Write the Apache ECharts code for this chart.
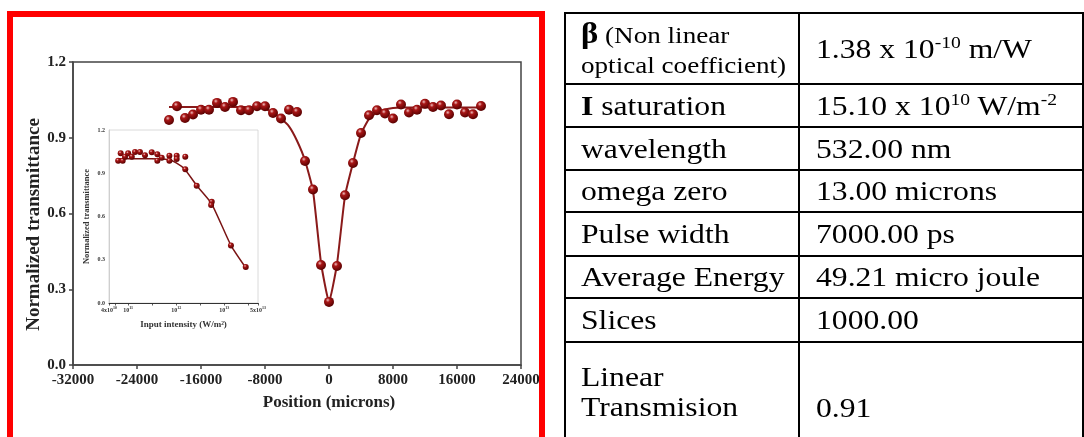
<!DOCTYPE html>
<html>
<head>
    <meta charset="UTF-8">
    <title>Z-scan transmittance</title>
    <script src="https://cdn.jsdelivr.net/npm/echarts@6/dist/echarts.min.js"></script>
    <style>
        body { margin:0; width:1084px; height:437px; overflow:hidden; background:#fff; position:relative; }
        #main { position:absolute; left:0; top:0; width:560px; height:437px; }
        #frame { position:absolute; left:7px; top:11px; width:526px; height:440px; border:6px solid #ff0000; pointer-events:none; }
        #params { position:absolute; left:564px; top:12px; border-collapse:collapse; table-layout:fixed;
                  font-family:"Liberation Serif","Times New Roman", serif; font-size:28px; color:#000; }
        #params td { border:2px solid #000; padding:0 0 0 15px; vertical-align:middle; overflow:hidden; white-space:nowrap; }
        #params td + td { padding-left:16px; }
        #params .t { display:inline-block; transform:scaleX(1.13); transform-origin:0 50%; line-height:30px; }
        #params sup { font-size:0.62em; vertical-align:0.55em; line-height:0; }
        #params .small { font-size:24px; line-height:28px; }
    </style>
</head>
<body>

<div id="main"></div>
<div id="frame"></div>
<table id="params"></table>

<script type="text/javascript">
    // main z-scan curve
    var mainPos = [-20000,-19000,-18000,-17000,-16000,-15000,-14000,-13000,-12000,-11000,-10000,-9000,-8000,-7000,-6000,-5000,-4000,-3000,-2000,-1000,
                   0,1000,2000,3000,4000,5000,6000,7000,8000,9000,10000,11000,12000,13000,14000,15000,16000,17000,18000,19000];
    var mainT = [0.970,1.025,0.978,0.992,1.011,1.011,1.038,1.022,1.042,1.009,1.009,1.025,1.025,0.998,0.976,1.011,1.002,0.808,0.695,0.396,
                 0.250,0.392,0.672,0.800,0.919,0.989,1.009,0.996,0.976,1.032,1.000,1.011,1.035,1.022,1.028,0.993,1.032,1.000,0.993,1.026];
    // fitted curve
    var fitPos = [-20000,-9000,-8000,-7000,-6000,-5000,-4000,-3000,-2000,-1000,0,1000,2000,3000,4000,5000,6000,7000,8000,9000,19000];
    var fitT   = [1.022,1.022,1.015,1.000,0.976,0.945,0.888,0.810,0.690,0.405,0.250,0.400,0.670,0.800,0.915,0.975,1.000,1.012,1.018,1.020,1.020];

    // inset: transmittance vs input intensity
    var insetI = [6.2e10,7.0e10,7.7e10,8.6e10,1.0e11,1.19e11,1.39e11,1.76e11,2.24e11,3.09e11,4.04e11,4.04e11,4.98e11,7.2e11,7.2e11,
                  1.02e12,1.02e12,1.54e12,1.54e12,2.66e12,5.46e12,5.3e12,1.37e13,2.78e13];
    var insetT = [0.987,1.038,0.987,1.015,1.038,1.015,1.047,1.047,1.024,1.045,1.031,0.987,1.008,1.022,0.987,
                  1.022,0.999,1.015,0.927,0.813,0.702,0.679,0.399,0.250];
    var insetFitI = [6.2e10,3e11,7e11,1e12,1.5e12,2.66e12,5.4e12,1.37e13,2.78e13];
    var insetFitT = [1.000,1.000,0.993,0.972,0.928,0.815,0.690,0.400,0.245];
    var insetLabelVals = [4e10,1e11,1e12,1e13,5e13];
    var insetTickVals = [4e10,5.3e10,1e11,3.16e11,1e12,3.16e12,1e13,3.16e13,5e13];

    // parameter table
    var paramNames = ['<b style="font-size:29px">&beta;</b><span class="small"> (Non linear<br>optical coefficient)</span>',
                      '<b>I</b> saturation','wavelength','omega zero','Pulse width','Average Energy','Slices','Linear<br>Transmision'];
    var paramValues = ['1.38 x 10<sup>-10</sup> m/W','15.10 x 10<sup>10</sup> W/m<sup>-2</sup>','532.00 nm','13.00 microns',
                       '7000.00 ps','49.21 micro joule','1000.00','0.91'];

    var rowHeights = [71, 43, 43, 42, 44, 42, 44, 100];
    var tbl = document.getElementById('params');
    var html = '<colgroup><col style="width:244px"><col style="width:300px"></colgroup>';
    for (var i = 0; i < paramNames.length; i++) {
        var last = i === paramNames.length - 1;
        var st = last ? 'vertical-align:top;padding-top:19px' : '';
        var st2 = last ? 'vertical-align:top;padding-top:49px' : '';
        html += '<tr style="height:' + rowHeights[i] + 'px"><td style="' + st + '"><span class="t">' + paramNames[i] +
                '</span></td><td style="' + st2 + '"><span class="t">' + paramValues[i] + '</span></td></tr>';
    }
    tbl.innerHTML = html;

    function pairs(a, b) {
        var out = [];
        for (var i = 0; i < a.length; i++) out.push([a[i], b[i]]);
        return out;
    }

    var sphere = function () {
        return {
            type: 'radial', x: 0.38, y: 0.32, r: 0.7,
            colorStops: [
                {offset: 0, color: '#f0c0c0'},
                {offset: 0.3, color: '#a81616'},
                {offset: 1, color: '#560000'}
            ]
        };
    };

    var serif = 'Liberation Serif';
    var myChart = echarts.init(document.getElementById('main'));
    var option = {
        animation: false,
        backgroundColor: '#fff',
        grid: [
            {left: 73, top: 62, width: 448, height: 303, show: true, borderColor: '#444', borderWidth: 1.5, containLabel: false},
            {left: 109, top: 130, width: 149, height: 173, show: true, backgroundColor: '#fff', borderColor: '#d0d0d0', borderWidth: 0.8}
        ],
        xAxis: [
            {
                gridIndex: 0, type: 'value', min: -32000, max: 24000, interval: 8000,
                name: 'Position (microns)', nameLocation: 'middle', nameGap: 29,
                nameTextStyle: {fontFamily: serif, fontWeight: 'bold', fontSize: 17, color: '#222', padding: [0, 0, 0, 64]},
                axisLine: {onZero: false, lineStyle: {color: '#444', width: 1.5}},
                axisTick: {inside: false, length: 4, lineStyle: {color: '#444', width: 1.5}},
                axisLabel: {fontFamily: serif, fontWeight: 'bold', fontSize: 15, color: '#222', margin: 8,
                    formatter: function (v) { return String(v); }},
                splitLine: {show: false}
            },
            {
                gridIndex: 1, type: 'log', min: 4e10, max: 5e13,
                name: 'Input intensity (W/m²)', nameLocation: 'middle', nameGap: 17,
                nameTextStyle: {fontFamily: serif, fontWeight: 'bold', fontSize: 9, color: '#333'},
                axisLine: {onZero: false, lineStyle: {color: '#333', width: 1}},
                axisTick: {length: 2.5, lineStyle: {color: '#333', width: 0.8}, customValues: insetTickVals},
                axisLabel: {
                    fontFamily: serif, fontWeight: 'bold', fontSize: 6, color: '#333', margin: 3,
                    customValues: insetLabelVals,
                    formatter: function (v) {
                        var e = Math.floor(Math.log10(v) + 1e-9);
                        var m = Math.round(v / Math.pow(10, e));
                        return (m === 1 ? '' : m + 'x') + '10{s|' + e + '}';
                    },
                    rich: {s: {fontSize: 4, fontFamily: serif, fontWeight: 'bold', color: '#333', verticalAlign: 'top', padding: [0, 0, 4, 0]}}
                },
                splitLine: {show: false}
            }
        ],
        yAxis: [
            {
                gridIndex: 0, type: 'value', min: 0, max: 1.2, interval: 0.3,
                name: 'Normalized transmittance', nameLocation: 'middle', nameGap: 29, nameMoveOverlap: false,
                nameTextStyle: {fontFamily: serif, fontWeight: 'bold', fontSize: 19, color: '#222', padding: [0, 22, 0, 0]},
                axisLine: {onZero: false, lineStyle: {color: '#444', width: 1.5}},
                axisTick: {inside: false, length: 4, lineStyle: {color: '#444', width: 1.5}},
                axisLabel: {fontFamily: serif, fontWeight: 'bold', fontSize: 15, color: '#222', margin: 7,
                    formatter: function (v) { return v.toFixed(1); }},
                splitLine: {show: false}
            },
            {
                gridIndex: 1, type: 'value', min: 0, max: 1.2, interval: 0.3,
                name: 'Normalized transmittance', nameLocation: 'middle', nameGap: 18,
                nameTextStyle: {fontFamily: serif, fontWeight: 'bold', fontSize: 8.5, color: '#333'},
                axisLine: {onZero: false, lineStyle: {color: '#c8c8c8', width: 0.8}},
                axisTick: {show: false},
                axisLabel: {fontFamily: serif, fontWeight: 'bold', fontSize: 6, color: '#333', margin: 4,
                    formatter: function (v) { return v.toFixed(1); }},
                splitLine: {show: false}
            }
        ],
        series: [
            {
                name: 'fit', type: 'line', xAxisIndex: 0, yAxisIndex: 0, data: pairs(fitPos, fitT),
                showSymbol: false, smooth: 0.15, lineStyle: {color: '#8a1a1a', width: 2}, z: 2
            },
            {
                name: 'data', type: 'scatter', xAxisIndex: 0, yAxisIndex: 0, data: pairs(mainPos, mainT),
                symbolSize: 10, itemStyle: {color: sphere(), opacity: 1}, z: 3
            },
            {
                name: 'inset fit', type: 'line', xAxisIndex: 1, yAxisIndex: 1, data: pairs(insetFitI, insetFitT),
                showSymbol: false, smooth: 0.2, lineStyle: {color: '#7a1414', width: 1.5}, z: 2
            },
            {
                name: 'inset data', type: 'scatter', xAxisIndex: 1, yAxisIndex: 1, data: pairs(insetI, insetT),
                symbolSize: 6, itemStyle: {color: sphere(), opacity: 1}, z: 3
            }
        ]
    };
    myChart.setOption(option);
</script>
</body>
</html>
